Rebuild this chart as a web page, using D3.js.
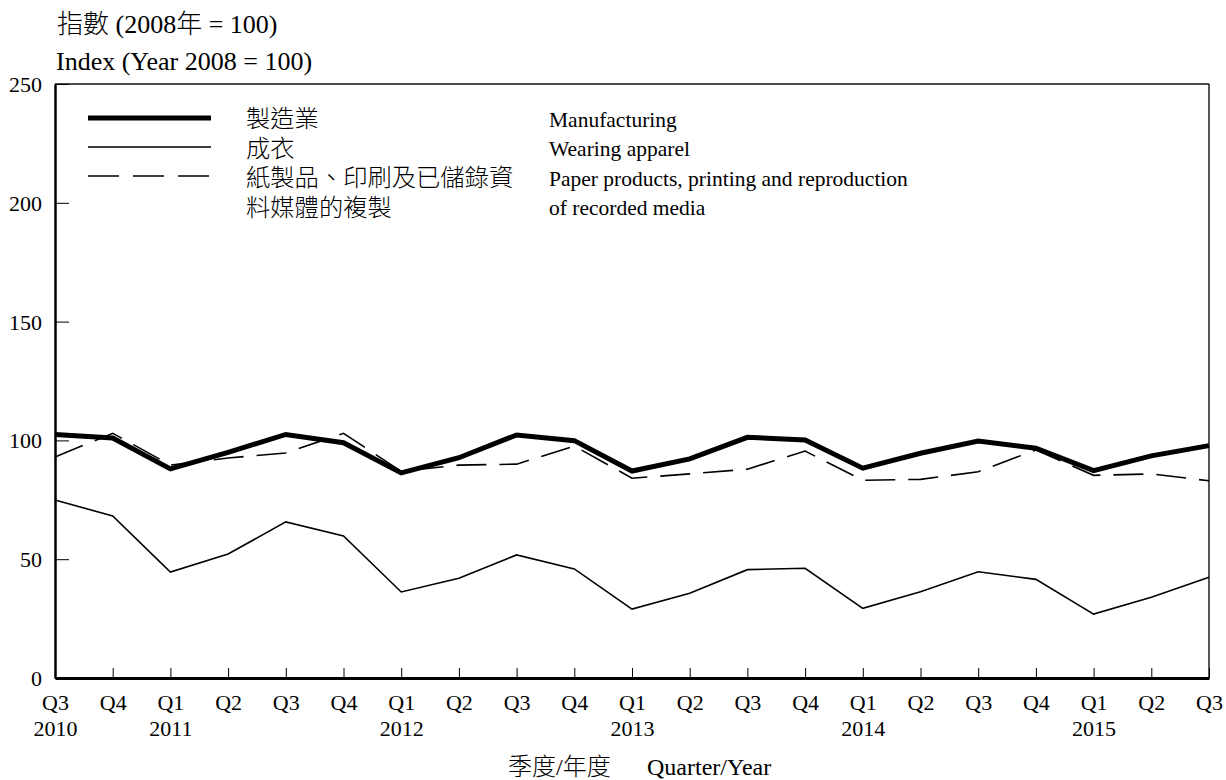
<!DOCTYPE html>
<html>
<head>
<meta charset="utf-8">
<script src="https://cdn.jsdelivr.net/npm/d3@7"></script>
<style>
  html, body { margin: 0; padding: 0; background: #fff; }
  svg { display: block; }
  text { font-family: "Liberation Serif", "Noto Sans CJK TC", serif; fill: #000; }
</style>
</head>
<body>
<svg id="chart" width="1226" height="780"></svg>
<script>
// ---- Data ----
const quarters = ["Q3","Q4","Q1","Q2","Q3","Q4","Q1","Q2","Q3","Q4","Q1","Q2","Q3","Q4","Q1","Q2","Q3","Q4","Q1","Q2","Q3"];
const years    = ["2010","","2011","","","","2012","","","","2013","","","","2014","","","","2015","",""];
const manufacturing = [102.5, 101, 88, 95, 102.5, 99, 86.3, 92.7, 102.3, 99.9, 87.1, 92.2, 101.3, 100.2, 88.3, 94.6, 99.7, 96.7, 87.3, 93.5, 97.8];
const apparel       = [74.9, 68.2, 44.6, 52.2, 65.7, 59.8, 36.2, 42, 51.8, 45.9, 29, 35.7, 45.6, 46.2, 29.3, 36.3, 44.7, 41.5, 26.9, 34, 42.4];
const paper         = [93, 103, 89.6, 92.6, 94.7, 103, 87, 89.6, 90, 97.6, 84.1, 85.9, 87.9, 95.5, 83.2, 83.6, 86.8, 96, 85.3, 85.9, 83];
const yTicks = [0, 50, 100, 150, 200, 250];
const seriesNamesZh = ["製造業", "成衣", "紙製品、印刷及已儲錄資", "料媒體的複製"];
const seriesNamesEn = ["Manufacturing", "Wearing apparel", "Paper products, printing and reproduction", "of recorded media"];

// ---- Layout ----
const svg = d3.select("#chart");
const L = 55, R = 1209, T = 84, B = 678;
const idx = d3.range(quarters.length);
const x = d3.scalePoint().domain(idx).range([L, R]);
const y = d3.scaleLinear().domain([0, 250]).range([B, T]);

// frame top/right
svg.append("line").attr("x1", L).attr("x2", R).attr("y1", T).attr("y2", T).attr("stroke", "#111").attr("stroke-width", 1.4);
svg.append("line").attr("x1", R).attr("x2", R).attr("y1", T).attr("y2", B).attr("stroke", "#111").attr("stroke-width", 1.4);

// y axis
const yAxis = d3.axisLeft(y).tickValues(yTicks).tickSizeInner(-14).tickSizeOuter(0).tickPadding(13);
const gy = svg.append("g").attr("transform", `translate(${L},0)`).call(yAxis);
gy.select(".domain").attr("stroke-width", 2.5);
gy.selectAll(".tick line").attr("stroke-width", 1);
gy.selectAll(".tick text").attr("font-size", 22).attr("font-family", "Liberation Serif").attr("dy", "0.34em");

// x axis
const xAxis = d3.axisBottom(x).tickFormat(i => quarters[i]).tickSizeInner(-10).tickSizeOuter(0).tickPadding(16.5);
const gx = svg.append("g").attr("transform", `translate(0,${B})`).call(xAxis);
gx.select(".domain").attr("stroke-width", 3);
gx.selectAll(".tick line").attr("stroke-width", 1);
gx.selectAll(".tick text").attr("font-size", 22).attr("font-family", "Liberation Serif");
gx.selectAll(".tick").filter(i => years[i] !== "").append("text")
  .attr("y", 16.5).attr("dy", "1.89em").attr("text-anchor", "middle")
  .attr("font-size", 22).attr("font-family", "Liberation Serif").attr("fill", "#000")
  .text(i => years[i]);

// lines
const line = d3.line().x((d, i) => x(i)).y(d => y(d));
svg.append("path").datum(apparel).attr("d", line).attr("fill", "none").attr("stroke", "#000").attr("stroke-width", 1.6);
svg.append("path").datum(paper).attr("d", line).attr("fill", "none").attr("stroke", "#000").attr("stroke-width", 1.6).attr("stroke-dasharray", "30,13");
svg.append("path").datum(manufacturing).attr("d", line).attr("fill", "none").attr("stroke", "#000").attr("stroke-width", 5);

// legend
const legY = [118, 147, 176];
const legStyles = [{w: 5, dash: null}, {w: 1.6, dash: null}, {w: 1.6, dash: "31,14"}];
legStyles.forEach((s, i) => {
  const ln = svg.append("line").attr("x1", 88).attr("x2", 211).attr("y1", legY[i]).attr("y2", legY[i])
    .attr("stroke", "#000").attr("stroke-width", s.w);
  if (s.dash) ln.attr("stroke-dasharray", s.dash);
});
seriesNamesZh.forEach((t, i) => {
  svg.append("text").attr("x", 246).attr("y", 127 + i * 29.5).attr("font-size", 24.3)
    .attr("font-family", "Noto Sans CJK TC").attr("font-weight", 300).text(t);
});
seriesNamesEn.forEach((t, i) => {
  svg.append("text").attr("x", 549).attr("y", 126.5 + i * 29.5).attr("font-size", 21.5)
    .attr("font-family", "Liberation Serif").text(t);
});

// titles
svg.append("text").attr("x", 57).attr("y", 33).attr("font-size", 26).attr("font-weight", 300).text("指數 (2008年 = 100)");
svg.append("text").attr("x", 56).attr("y", 70).attr("font-size", 26).attr("font-family", "Liberation Serif").text("Index (Year 2008 = 100)");
svg.append("text").attr("x", 508).attr("y", 775).attr("font-size", 24).attr("font-weight", 300).text("季度/年度");
svg.append("text").attr("x", 647).attr("y", 775).attr("font-size", 24).attr("font-family", "Liberation Serif").text("Quarter/Year");
</script>
</body>
</html>
